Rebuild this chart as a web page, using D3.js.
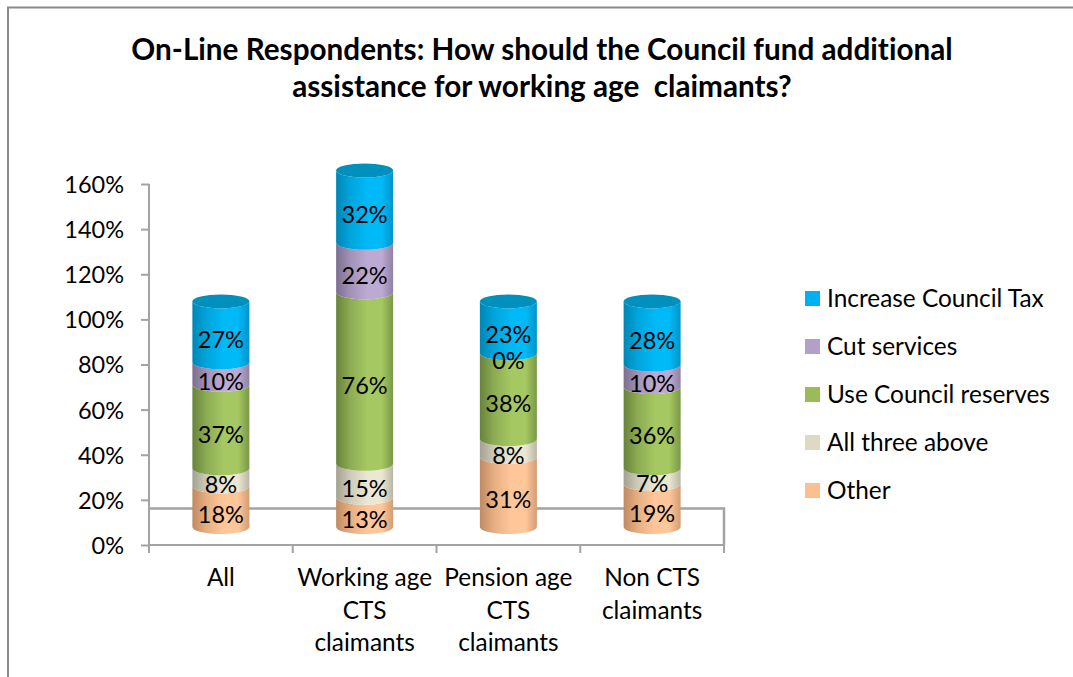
<!DOCTYPE html>
<html><head><meta charset="utf-8">
<script src="https://cdn.jsdelivr.net/npm/d3@7/dist/d3.min.js"></script>
<style>html,body{margin:0;padding:0;background:#fff;overflow:hidden}svg{display:block}text{font-family:Lato,"Open Sans",sans-serif;fill:#000;font-variant-ligatures:none}</style>
</head><body><svg id="c" width="1073" height="677"></svg>
<script>
const categories = ["All", "Working age CTS claimants", "Pension age CTS claimants", "Non CTS claimants"];
const categoryLines = [["All"], ["Working age", "CTS", "claimants"], ["Pension age", "CTS", "claimants"], ["Non CTS", "claimants"]];
const seriesNames = ["Other", "All three above", "Use Council reserves", "Cut services", "Increase Council Tax"];
const other = [18, 13, 31, 19];
const allThree = [8, 15, 8, 7];
const reserves = [37, 76, 38, 36];
const cutServices = [10, 22, 0, 10];
const councilTax = [27, 32, 23, 28];
const yTicks = [0, 20, 40, 60, 80, 100, 120, 140, 160];
const titleLines = ["On-Line Respondents: How should the Council fund additional", "assistance for working age  claimants?"];
const seriesValues = [other, allThree, reserves, cutServices, councilTax];
const legendColors = ["#fac090", "#ddd9c3", "#9bbb59", "#b1a0c7", "#00b0f0"];
const shades = [["#c08a62", "#ffc799"], ["#a3a191", "#ebe7d3"], ["#68833c", "#a5c862"], ["#7c6f8f", "#bcaad2"], ["#0086b4", "#00b9f7"]];

const svg = d3.select("#c");
const frame = "#8a8a8a", axisCol = "#a3a3a3";
svg.append("path").attr("d", "M8,677V7.5H1073").attr("fill", "none").attr("stroke", frame).attr("stroke-width", 2);

svg.selectAll(".t").data(titleLines).join("text")
  .attr("x", 542).attr("y", (d, i) => 60 + i * 37)
  .attr("text-anchor", "middle").attr("font-size", 29.7).attr("font-weight", 700)
  .attr("xml:space", "preserve").style("white-space", "pre").text(d => d);

const y = d3.scaleLinear().domain([0, 160]).range([545, 184]);
const x = d3.scaleBand().domain(categories).range([149, 724]);
const depth = 18, barW = 57, ry = 7;

// floor behind the bars
svg.append("path").attr("d", "M149,508.5H724V545").attr("fill", "none").attr("stroke", axisCol).attr("stroke-width", 2.5);

const defs = svg.append("defs");
shades.forEach((s, i) => {
  const g = defs.append("linearGradient").attr("id", "g" + i);
  const mix = d3.interpolateRgb(s[0], s[1]);
  [[0, s[0]], [0.25, mix(0.6)], [0.55, s[1]], [0.8, s[1]], [1, mix(0.3)]].forEach(p =>
    g.append("stop").attr("offset", p[0]).attr("stop-color", p[1]));
});

categories.forEach((c, ci) => {
  const cx = x(c) + x.bandwidth() / 2, l = cx - barW / 2, r = cx + barW / 2, rx = barW / 2;
  let cum = 0;
  const g = svg.append("g");
  seriesValues.forEach((vals, si) => {
    const v = vals[ci];
    const y0 = y(cum) - depth, y1 = y(cum + v) - depth;
    cum += v;
    if (v > 0) g.append("path")
      .attr("d", `M${l},${y1}A${rx},${ry} 0 0 0 ${r},${y1}V${y0}A${rx},${ry} 0 0 1 ${l},${y0}Z`)
      .attr("fill", `url(#g${si})`);
  });
  g.append("ellipse").attr("cx", cx).attr("cy", y(cum) - depth).attr("rx", rx).attr("ry", ry).attr("fill", "#0090bd");
  cum = 0;
  seriesValues.forEach(vals => {
    const v = vals[ci];
    const mid = y(cum + v / 2) - depth;
    cum += v;
    g.append("text").attr("x", cx).attr("y", mid + 16).attr("text-anchor", "middle").attr("font-size", 23.5).text(v + "%");
  });
});

// axes
const ax = svg.append("g").attr("transform", "translate(149,0)")
  .call(d3.axisLeft(y).tickValues(yTicks).tickSize(8).tickFormat(d => d + "%"));
ax.select(".domain").attr("stroke", axisCol).attr("stroke-width", 2).attr("d", "M0,184V546");
ax.selectAll("line").attr("stroke", axisCol).attr("stroke-width", 2);
ax.selectAll("text").attr("x", -25).attr("dy", "0.36em").attr("font-size", 23.5).attr("fill", "#000").style("font-family", "Lato");

const bx = svg.append("g").attr("transform", "translate(0,545)")
  .call(d3.axisBottom(x).tickSize(0).tickFormat(""));
bx.select(".domain").attr("stroke", axisCol).attr("stroke-width", 2).attr("d", "M149,0H724");
svg.selectAll(".xt").data([...categories, null]).join("line")
  .attr("x1", d => d ? x(d) : x(categories[3]) + x.bandwidth())
  .attr("x2", d => d ? x(d) : x(categories[3]) + x.bandwidth())
  .attr("y1", 545).attr("y2", 553).attr("stroke", axisCol).attr("stroke-width", 2);

categories.forEach((c, i) => {
  svg.append("g").selectAll("text").data(categoryLines[i]).join("text")
    .attr("x", x(c) + x.bandwidth() / 2).attr("y", (d, k) => 586 + k * 32.5)
    .attr("text-anchor", "middle").attr("font-size", 24.4).text(d => d);
});

// legend, top to bottom
const order = d3.range(seriesNames.length).reverse();
const leg = svg.selectAll(".lg").data(order).join("g").attr("transform", (d, i) => `translate(805,${291 + i * 48})`);
leg.append("rect").attr("width", 15).attr("height", 15).attr("fill", d => legendColors[d]);
leg.append("text").attr("x", 22).attr("y", 16).attr("font-size", 24.4).text(d => seriesNames[d]);
</script></body></html>
